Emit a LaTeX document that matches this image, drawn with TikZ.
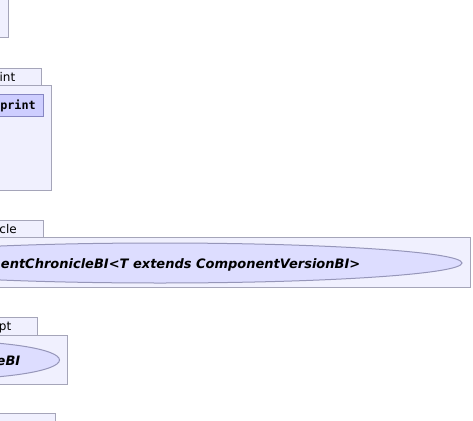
\documentclass[tikz,border=0pt]{standalone}
\usepackage{fontspec}
\setmainfont{DejaVu Sans}
\newfontfamily\monob{DejaVu Sans Mono}
\definecolor{pkgfill}{RGB}{240,240,254}
\definecolor{pkgline}{RGB}{165,165,185}
\definecolor{boxfill}{RGB}{206,206,255}
\definecolor{boxline}{RGB}{135,135,195}
\definecolor{ellfill}{RGB}{221,221,255}
\definecolor{ellline}{RGB}{150,150,185}
\tikzset{
  pkg/.style={draw=pkgline, fill=pkgfill, line width=1pt},
  innerbox/.style={draw=boxline, fill=boxfill, line width=1pt},
  ell/.style={draw=ellline, fill=ellfill, line width=1pt},
  tablabel/.style={anchor=base east, inner sep=0pt, font=\fontsize{12}{14}\selectfont},
  boxlabel/.style={anchor=base east, inner sep=0pt, font=\fontsize{11.8}{14}\selectfont\monob\bfseries},
  elllabel/.style={anchor=base east, inner sep=0pt, font=\fontsize{13}{15}\selectfont\bfseries\itshape}
}
\begin{document}
\begin{tikzpicture}[x=1pt,y=-1pt]
\useasboundingbox (0,0) rectangle (473,420);
\clip (0,0) rectangle (473,420);
% top box
\draw[pkg] (-5,-5) rectangle (8.5,37.5);
% blueprint package
\draw[pkg] (-5,68.5) rectangle (41.5,85.5);
\draw[pkg] (-5,85.5) rectangle (51.5,190.5);
\node[tablabel] (rint) at (15.5,81) {rint};
\draw[innerbox] (-5,94.5) rectangle (43.5,116.5);
\node[boxlabel] (print) at (36,109.5) {print};
% chronicle package
\draw[pkg] (-5,220.5) rectangle (43.5,237.5);
\draw[pkg] (-5,237.5) rectangle (470.5,287.5);
\node[tablabel] (cle) at (17,233) {cle};
\draw[ell] (160,263) ellipse [x radius=302, y radius=20];
\node[elllabel] (chron) at (360.5,268) {entChronicleBI<T extends ComponentVersionBI>};
% concept package
\draw[pkg] (-5,317.5) rectangle (37.5,335.5);
\draw[pkg] (-5,335.5) rectangle (67.5,384.5);
\node[tablabel] (pt) at (11.5,330) {pt};
\draw[ell] (-56,360) ellipse [x radius=115.5, y radius=19];
\node[elllabel] (ebi) at (20.5,365) {eBI};
% bottom package tab
\draw[pkg] (-5,413.5) rectangle (55.5,440);
\end{tikzpicture}
\end{document}
